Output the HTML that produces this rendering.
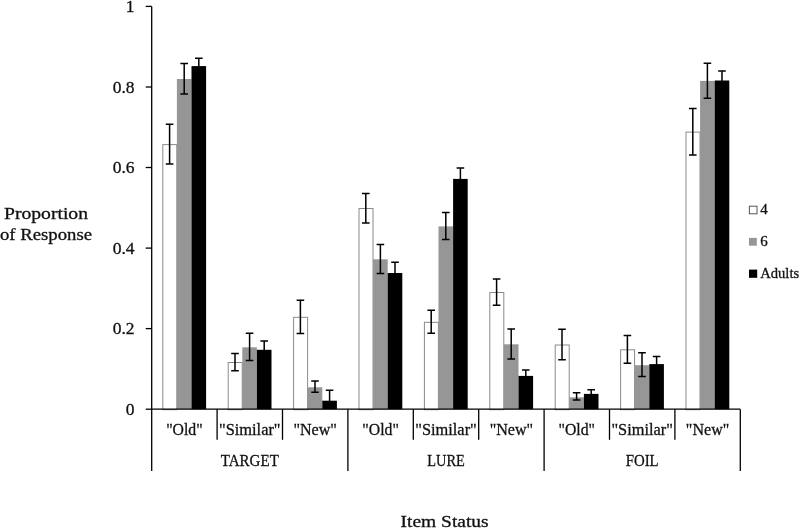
<!DOCTYPE html>
<html><head><meta charset="utf-8"><title>Proportion of Response by Item Status</title>
<style>html,body{margin:0;padding:0;background:#fff}svg{display:block}</style></head>
<body>
<svg width="800" height="528" viewBox="0 0 800 528">
<rect width="800" height="528" fill="#fff"/>
<g>
<rect x="162.8" y="144.6" width="14.0" height="265.1" fill="#fff" stroke="#8a8a8a" stroke-width="1"/>
<rect x="176.9" y="79.0" width="14.6" height="330.2" fill="#969696"/>
<rect x="191.5" y="66.1" width="14.6" height="343.1" fill="#000000"/>
<rect x="228.2" y="362.5" width="14.0" height="47.2" fill="#fff" stroke="#8a8a8a" stroke-width="1"/>
<rect x="242.3" y="347.3" width="14.6" height="61.9" fill="#969696"/>
<rect x="256.9" y="349.8" width="14.6" height="59.4" fill="#000000"/>
<rect x="293.6" y="317.3" width="14.0" height="92.4" fill="#fff" stroke="#8a8a8a" stroke-width="1"/>
<rect x="307.7" y="387.3" width="14.6" height="21.9" fill="#969696"/>
<rect x="322.3" y="400.7" width="14.6" height="8.5" fill="#000000"/>
<rect x="359.0" y="208.5" width="14.0" height="201.2" fill="#fff" stroke="#8a8a8a" stroke-width="1"/>
<rect x="373.1" y="259.3" width="14.6" height="149.9" fill="#969696"/>
<rect x="387.7" y="273.0" width="14.6" height="136.2" fill="#000000"/>
<rect x="424.4" y="322.3" width="14.0" height="87.4" fill="#fff" stroke="#8a8a8a" stroke-width="1"/>
<rect x="438.5" y="226.4" width="14.6" height="182.8" fill="#969696"/>
<rect x="453.1" y="178.9" width="14.6" height="230.3" fill="#000000"/>
<rect x="489.8" y="292.5" width="14.0" height="117.2" fill="#fff" stroke="#8a8a8a" stroke-width="1"/>
<rect x="503.9" y="344.3" width="14.6" height="64.9" fill="#969696"/>
<rect x="518.5" y="375.9" width="14.6" height="33.3" fill="#000000"/>
<rect x="555.2" y="345.0" width="14.0" height="64.7" fill="#fff" stroke="#8a8a8a" stroke-width="1"/>
<rect x="569.3" y="397.3" width="14.6" height="11.9" fill="#969696"/>
<rect x="583.9" y="393.9" width="14.6" height="15.3" fill="#000000"/>
<rect x="620.6" y="349.8" width="14.0" height="59.9" fill="#fff" stroke="#8a8a8a" stroke-width="1"/>
<rect x="634.7" y="365.2" width="14.6" height="44.0" fill="#969696"/>
<rect x="649.3" y="364.1" width="14.6" height="45.1" fill="#000000"/>
<rect x="686.0" y="132.1" width="14.0" height="277.6" fill="#fff" stroke="#8a8a8a" stroke-width="1"/>
<rect x="700.1" y="80.9" width="14.6" height="328.3" fill="#969696"/>
<rect x="714.7" y="80.5" width="14.6" height="328.7" fill="#000000"/>
</g>
<g stroke="#000" stroke-width="1.5" fill="none">
<path d="M169.6 124.3V163.9M165.8 124.3h7.6M165.8 163.9h7.6"/>
<path d="M184.2 63.6V93.9M180.4 63.6h7.6M180.4 93.9h7.6"/>
<path d="M198.8 58.2V74.0M195.0 58.2h7.6M195.0 74.0h7.6"/>
<path d="M235.0 353.6V370.7M231.2 353.6h7.6M231.2 370.7h7.6"/>
<path d="M249.6 333.2V360.5M245.8 333.2h7.6M245.8 360.5h7.6"/>
<path d="M264.2 341.1V358.5M260.4 341.1h7.6M260.4 358.5h7.6"/>
<path d="M300.4 300.2V333.6M296.6 300.2h7.6M296.6 333.6h7.6"/>
<path d="M315.0 380.9V392.3M311.2 380.9h7.6M311.2 392.3h7.6"/>
<path d="M329.6 390.2V408.0M325.8 390.2h7.6M325.8 408.0h7.6"/>
<path d="M365.8 193.4V223.0M362.0 193.4h7.6M362.0 223.0h7.6"/>
<path d="M380.4 244.5V273.6M376.6 244.5h7.6M376.6 273.6h7.6"/>
<path d="M395.0 262.3V283.0M391.2 262.3h7.6M391.2 283.0h7.6"/>
<path d="M431.2 310.2V333.2M427.4 310.2h7.6M427.4 333.2h7.6"/>
<path d="M445.8 212.5V239.5M442.0 212.5h7.6M442.0 239.5h7.6"/>
<path d="M460.4 168.0V190.0M456.6 168.0h7.6M456.6 190.0h7.6"/>
<path d="M496.6 279.1V305.2M492.8 279.1h7.6M492.8 305.2h7.6"/>
<path d="M511.2 328.9V358.9M507.4 328.9h7.6M507.4 358.9h7.6"/>
<path d="M525.8 370.0V382.0M522.0 370.0h7.6M522.0 382.0h7.6"/>
<path d="M562.0 329.3V359.8M558.2 329.3h7.6M558.2 359.8h7.6"/>
<path d="M576.6 392.7V400.0M572.8 392.7h7.6M572.8 400.0h7.6"/>
<path d="M591.2 389.8V398.0M587.4 389.8h7.6M587.4 398.0h7.6"/>
<path d="M627.4 335.5V363.2M623.6 335.5h7.6M623.6 363.2h7.6"/>
<path d="M642.0 352.7V376.4M638.2 352.7h7.6M638.2 376.4h7.6"/>
<path d="M656.6 356.6V371.0M652.8 356.6h7.6M652.8 371.0h7.6"/>
<path d="M692.8 108.6V155.0M689.0 108.6h7.6M689.0 155.0h7.6"/>
<path d="M707.4 63.2V98.2M703.6 63.2h7.6M703.6 98.2h7.6"/>
<path d="M722.0 71.1V90.0M718.2 71.1h7.6M718.2 90.0h7.6"/>
</g>
<g stroke="#000" stroke-width="1.3" fill="none">
<path d="M151.7 6.4V471"/>
<path d="M151.7 409.2H740.3"/>
<path d="M145.7 6.4H151.7"/>
<path d="M145.7 87.0H151.7"/>
<path d="M145.7 167.5H151.7"/>
<path d="M145.7 248.1H151.7"/>
<path d="M145.7 328.6H151.7"/>
<path d="M145.7 409.2H151.7"/>
<path d="M217.1 409.2V439.8"/>
<path d="M282.5 409.2V439.8"/>
<path d="M347.9 409.2V471"/>
<path d="M413.3 409.2V439.8"/>
<path d="M478.7 409.2V439.8"/>
<path d="M544.1 409.2V471"/>
<path d="M609.5 409.2V439.8"/>
<path d="M674.9 409.2V439.8"/>
<path d="M740.3 409.2V471"/>
</g>
<g font-family="'Liberation Serif', serif" fill="#111" stroke="#111" stroke-width="0.3">
<text x="134.5" y="12.2" font-size="17.5" text-anchor="end">1</text>
<text x="134.5" y="92.8" font-size="17.5" text-anchor="end">0.8</text>
<text x="134.5" y="173.3" font-size="17.5" text-anchor="end">0.6</text>
<text x="134.5" y="253.9" font-size="17.5" text-anchor="end">0.4</text>
<text x="134.5" y="334.4" font-size="17.5" text-anchor="end">0.2</text>
<text x="134.5" y="415.0" font-size="17.5" text-anchor="end">0</text>
<text x="184.4" y="434.8" font-size="17" text-anchor="middle" textLength="36.5" lengthAdjust="spacingAndGlyphs">&quot;Old&quot;</text>
<text x="249.8" y="434.8" font-size="17" text-anchor="middle" textLength="61.5" lengthAdjust="spacingAndGlyphs">&quot;Similar&quot;</text>
<text x="315.2" y="434.8" font-size="17" text-anchor="middle" textLength="43.5" lengthAdjust="spacingAndGlyphs">&quot;New&quot;</text>
<text x="380.6" y="434.8" font-size="17" text-anchor="middle" textLength="36.5" lengthAdjust="spacingAndGlyphs">&quot;Old&quot;</text>
<text x="446.0" y="434.8" font-size="17" text-anchor="middle" textLength="61.5" lengthAdjust="spacingAndGlyphs">&quot;Similar&quot;</text>
<text x="511.4" y="434.8" font-size="17" text-anchor="middle" textLength="43.5" lengthAdjust="spacingAndGlyphs">&quot;New&quot;</text>
<text x="576.8" y="434.8" font-size="17" text-anchor="middle" textLength="36.5" lengthAdjust="spacingAndGlyphs">&quot;Old&quot;</text>
<text x="642.2" y="434.8" font-size="17" text-anchor="middle" textLength="61.5" lengthAdjust="spacingAndGlyphs">&quot;Similar&quot;</text>
<text x="707.6" y="434.8" font-size="17" text-anchor="middle" textLength="43.5" lengthAdjust="spacingAndGlyphs">&quot;New&quot;</text>
<text x="249.8" y="466" font-size="17" text-anchor="middle" textLength="58" lengthAdjust="spacingAndGlyphs">TARGET</text>
<text x="446.0" y="466" font-size="17" text-anchor="middle" textLength="37.5" lengthAdjust="spacingAndGlyphs">LURE</text>
<text x="642.2" y="466" font-size="17" text-anchor="middle" textLength="33" lengthAdjust="spacingAndGlyphs">FOIL</text>
<text x="444.6" y="526.6" font-size="17" text-anchor="middle" textLength="88" lengthAdjust="spacingAndGlyphs">Item Status</text>
<text x="4" y="218.6" font-size="17" textLength="84" lengthAdjust="spacingAndGlyphs">Proportion</text>
<text x="0" y="239.5" font-size="17" textLength="92" lengthAdjust="spacingAndGlyphs">of Response</text>
<text x="760.2" y="214.2" font-size="15">4</text>
<text x="760.2" y="246" font-size="15">6</text>
<text x="760.2" y="277.7" font-size="15" textLength="39" lengthAdjust="spacingAndGlyphs">Adults</text>
</g>
<rect x="749.4" y="206.2" width="7.6" height="7.6" fill="#fff" stroke="#555" stroke-width="1"/>
<rect x="749" y="237.9" width="7.8" height="7.8" fill="#969696"/>
<rect x="749" y="269.6" width="8.2" height="8.2" fill="#000"/>
</svg>
</body></html>
